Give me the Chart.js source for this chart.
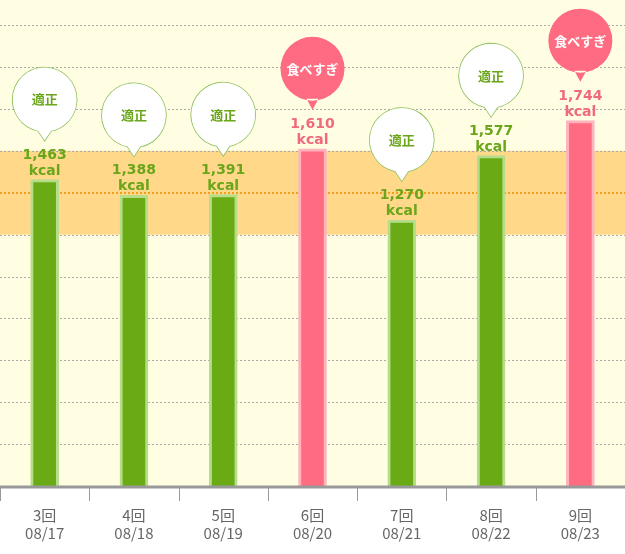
<!DOCTYPE html><html><head><meta charset="utf-8">
<script src="https://cdn.jsdelivr.net/npm/chart.js@4"></script>
<style>body{margin:0;background:#fff}#w{width:625px;height:554px}</style></head><body><div id="w"><canvas id="c"></canvas></div>
<script>
const rounds=["3回","4回","5回","6回","7回","8回","9回"];
const dates=["08/17","08/18","08/19","08/20","08/21","08/22","08/23"];
const kcal=[1463,1388,1391,1610,1270,1577,1744];
const status=["適正","適正","適正","食べすぎ","適正","適正","食べすぎ"];
const bandLow=1200,bandHigh=1600,target=1400;
const over=s=>s==="食べすぎ";
const deco={id:'deco',
beforeDatasetsDraw(ch){const{ctx,chartArea:a,scales:{y}}=ch;ctx.save();
ctx.fillStyle='#fffee3';ctx.fillRect(a.left,a.top,a.right-a.left,a.bottom-a.top);
ctx.fillStyle='#ffd88a';ctx.fillRect(a.left,y.getPixelForValue(bandHigh),a.right-a.left,y.getPixelForValue(bandLow)-y.getPixelForValue(bandHigh));
ctx.strokeStyle='#aaa';ctx.setLineDash([2,2]);ctx.lineWidth=1;
for(let v=200;v<=2200;v+=200){if(v===target)continue;const p=Math.round(y.getPixelForValue(v))+.5;ctx.beginPath();ctx.moveTo(a.left,p);ctx.lineTo(a.right,p);ctx.stroke();}
ctx.strokeStyle='#f0a020';ctx.lineWidth=2;const t=Math.round(y.getPixelForValue(target));ctx.beginPath();ctx.moveTo(a.left,t);ctx.lineTo(a.right,t);ctx.stroke();
ctx.restore();},
afterDatasetsDraw(ch){const{ctx,chartArea:a}=ch;const m=ch.getDatasetMeta(0);ctx.save();
const w=(a.right-a.left)/kcal.length;
ctx.strokeStyle='#999';ctx.lineWidth=3;ctx.beginPath();ctx.moveTo(a.left,a.bottom+1);ctx.lineTo(a.right,a.bottom+1);ctx.stroke();
ctx.lineWidth=1;for(let i=0;i<=kcal.length;i++){const x=Math.round(a.left+i*w)+.5;ctx.beginPath();ctx.moveTo(x,a.bottom);ctx.lineTo(x,a.bottom+15);ctx.stroke();}
m.data.forEach((b,i)=>{const o=over(status[i]);const col=o?'#f06a7f':'#6aa51a';const x=b.x,top=b.y;
ctx.textAlign='center';ctx.fillStyle=col;ctx.font='bold 14px "DejaVu Sans"';
ctx.fillText(kcal[i].toLocaleString('en-US'),x,top-21);ctx.fillText('kcal',x,top-5);
const cy=top-80,r=o?32:32;
ctx.beginPath();ctx.arc(x,cy,r,0,Math.PI*2);ctx.moveTo(x-6,cy+r-2);ctx.lineTo(x,cy+r+9);ctx.lineTo(x+6,cy+r-2);
ctx.fillStyle=o?'#ff6b80':'#fff';ctx.fill();
if(!o){ctx.strokeStyle='#8cbf5a';ctx.lineWidth=1.5;ctx.beginPath();ctx.arc(x,cy,r,Math.PI/2+0.2,Math.PI*2.5-0.2);ctx.lineTo(x,cy+r+9);ctx.closePath();ctx.stroke();ctx.fillStyle='#fff';ctx.fill();}
ctx.fillStyle=o?'#fff':'#6aa51a';ctx.font='bold 13px "Noto Sans CJK JP"';ctx.textBaseline='middle';ctx.fillText(status[i],x,cy);ctx.textBaseline='alphabetic';});
ctx.restore();}};
new Chart(document.getElementById('c'),{type:'bar',
data:{labels:rounds.map((r,i)=>[r,dates[i]]),datasets:[{data:kcal,
backgroundColor:status.map(s=>over(s)?'#ff6b80':'#6aaa14'),borderColor:status.map(s=>over(s)?'#ffb3bd':'#b6de8a'),borderWidth:3,barThickness:28,borderSkipped:'bottom'}]},
plugins:[deco],
options:{responsive:true,maintainAspectRatio:false,animation:false,layout:{padding:0},
plugins:{legend:{display:false},tooltip:{enabled:false}},
scales:{y:{display:false,min:0,max:2320},
x:{grid:{display:false},border:{display:false},ticks:{color:'#666',font:{family:'"Noto Sans CJK JP"',size:15},padding:12,maxRotation:0}}}}});
</script></body></html>
